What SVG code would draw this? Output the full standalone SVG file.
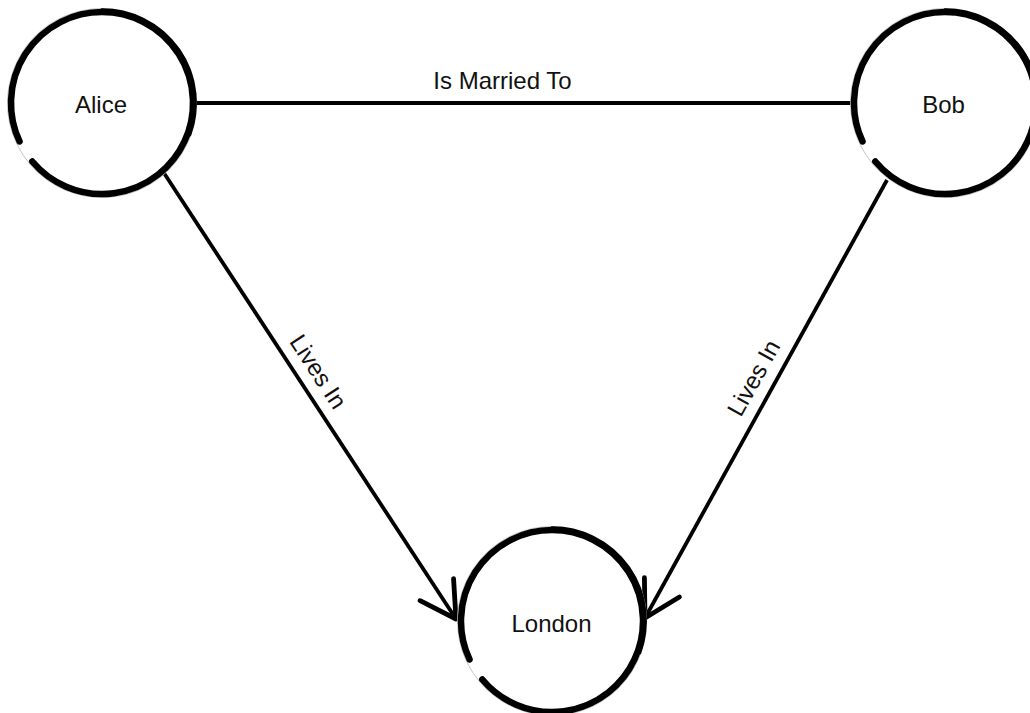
<svg xmlns="http://www.w3.org/2000/svg" xmlns:xlink="http://www.w3.org/1999/xlink" width="1030" height="713" viewBox="0 0 1030 713">
  <style>
    .halo { fill: none; stroke: #c4c4c4; stroke-width: 1; }
    .ring { fill: none; stroke: #000; stroke-width: 6.5; stroke-linecap: round; }
    .ring-thick { fill: none; stroke: #000; stroke-width: 2.5; stroke-linecap: round; }
    .edge { fill: none; stroke: #000; stroke-width: 3.8; }
    .label { font-family: "Liberation Sans", Arial, sans-serif; font-size: 24px; fill: #111; text-anchor: middle; }
  </style>
  <defs>
    <g id="node-shape">
      <circle class="halo" cx="0" cy="0" r="94.5"/>
      <path class="ring" d="M -82.47 38.46 A 91 91 0 1 1 -69.71 58.49"/>
      <path class="ring-thick" d="M 0 -93.5 A 93.5 93.5 0 0 1 88 32"/>
    </g>
    <marker id="open-arrow" markerUnits="userSpaceOnUse" markerWidth="60" markerHeight="60" refX="0" refY="0" orient="auto" overflow="visible">
      <path d="M -35 -20 L 0 0 L -35 20" fill="none" stroke="#000" stroke-width="4.8" stroke-linecap="round" stroke-linejoin="round"/>
    </marker>
  </defs>
  <rect width="1030" height="713" fill="#fff"/>

  <g id="connectors">
    <g id="edge-married">
      <line class="edge" x1="196" y1="103" x2="852" y2="103"/>
      <text class="label" x="502.5" y="89">Is Married To</text>
    </g>
    <g id="edge-alice-london">
      <line class="edge" x1="162" y1="170" x2="456" y2="619" marker-end="url(#open-arrow)"/>
      <text class="label" transform="translate(301.3 382.8) rotate(56.8)" x="0" y="-12">Lives In</text>
    </g>
    <g id="edge-bob-london">
      <line class="edge" x1="887" y1="180" x2="645" y2="618" marker-end="url(#open-arrow)"/>
      <text class="label" transform="translate(771.4 387.8) rotate(-60.9)" x="0" y="-12">Lives In</text>
    </g>
  </g>

  <g id="node-alice">
    <use xlink:href="#node-shape" href="#node-shape" transform="translate(102 103)"/>
    <text class="label" x="101" y="113">Alice</text>
  </g>
  <g id="node-bob">
    <use xlink:href="#node-shape" href="#node-shape" transform="translate(945 103)"/>
    <text class="label" x="943.5" y="113">Bob</text>
  </g>
  <g id="node-london">
    <use xlink:href="#node-shape" href="#node-shape" transform="translate(552 621)"/>
    <text class="label" x="551.5" y="632">London</text>
  </g>
</svg>
